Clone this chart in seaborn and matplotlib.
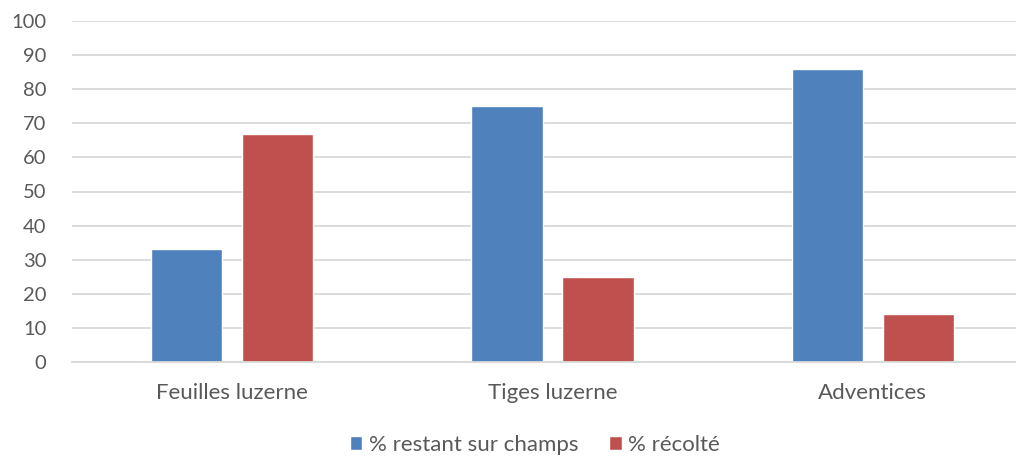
import matplotlib
matplotlib.use("Agg")
import matplotlib.pyplot as plt
import seaborn as sns
import pandas as pd

categories = ["Feuilles luzerne", "Tiges luzerne", "Adventices"]
series_names = ["% restant sur champs", "% récolté"]
restant = [33, 75, 86]
recolte = [67, 25, 14]
y_ticks = [0, 10, 20, 30, 40, 50, 60, 70, 80, 90, 100]

df = pd.DataFrame({
    "categorie": categories * 2,
    "serie": [series_names[0]] * 3 + [series_names[1]] * 3,
    "valeur": restant + recolte,
})

sns.set_theme(style="white")
plt.rcParams["font.family"] = ["Lato", "DejaVu Sans"]
text_color = "#595959"
grid_color = "#D9D9D9"

fig = plt.figure(figsize=(10.16, 4.58), dpi=100)
ax = fig.add_axes([72 / 1016, 96 / 458, 961 / 1016, 341 / 458])

sns.barplot(data=df, x="categorie", y="valeur", hue="serie",
            palette=["#4F81BD", "#C0504D"], width=0.568, gap=0.213,
            saturation=1, ax=ax, legend=True)

ax.set_ylim(0, 100)
ax.set_xlim(-0.5, 2.5)
ax.set_yticks(y_ticks)
ax.set_axisbelow(True)
ax.yaxis.grid(True, color=grid_color, linewidth=1.3)
for s in ["top", "right", "left"]:
    ax.spines[s].set_visible(False)
ax.spines["bottom"].set_color(grid_color)
ax.spines["bottom"].set_linewidth(1.3)
ax.tick_params(axis="both", length=0, colors=text_color)
ax.tick_params(axis="x", labelsize=16, pad=15)
ax.tick_params(axis="y", labelsize=14.5, pad=18.5)
ax.set_xlabel("")
ax.set_ylabel("")

handles, labels = ax.get_legend_handles_labels()
ax.legend_.remove()
fig.legend(handles, labels, loc="center", bbox_to_anchor=(535 / 1016, 1 - 445 / 458),
           ncol=2, frameon=False, fontsize=16, labelcolor=text_color,
           handlelength=0.55, handleheight=0.55, handletextpad=0.3, columnspacing=1.4)

fig.savefig("out.png", dpi=100)
